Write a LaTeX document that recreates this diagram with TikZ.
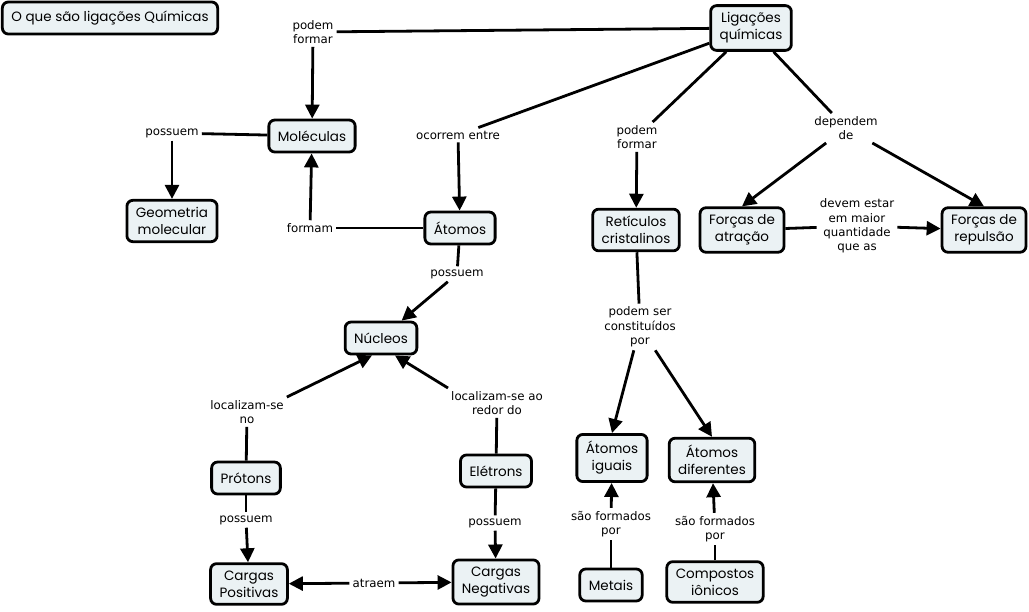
\documentclass[tikz,border=0pt]{standalone}
\usepackage{fontspec}
\usetikzlibrary{arrows.meta}

\newfontfamily\conceptfont{Poppins}
\newfontfamily\linkfont{DejaVu Sans}
\definecolor{conceptfill}{HTML}{EBF2F4}

\tikzset{
  concept/.style={draw, line width=2.8pt, rounded corners=6pt, fill=conceptfill,
    align=center, inner xsep=9pt, inner ysep=7pt, minimum height=32pt,
    font=\conceptfont\fontsize{13.5}{17}\selectfont},
  linking/.style={align=center, inner sep=3pt,
    font=\linkfont\fontsize{11.8}{14.4}\selectfont},
  link/.style={line width=2.8pt},
  linkarrow/.style={line width=2.8pt, -{Triangle[length=14pt,width=14pt]}},
}

\begin{document}
\begin{tikzpicture}[x={(1pt,0pt)}, y={(0pt,-1pt)}]

% Page frame
\useasboundingbox (0,0) rectangle (1029,611);
\fill[white] (0,0) rectangle (1029,611);

% Concepts
\node[concept] (title) at (110,18) {O que são ligações Químicas};
\node[concept] (lig) at (751,28) {Ligações\\químicas};
\node[concept] (mol) at (312,136) {Moléculas};
\node[concept] (geo) at (172,221) {Geometria\\molecular};
\node[concept] (ato) at (460,228) {Átomos};
\node[concept] (nuc) at (381,338) {Núcleos};
\node[concept] (prot) at (246,478) {Prótons};
\node[concept] (elet) at (496,471) {Elétrons};
\node[concept] (cpos) at (249,584) {Cargas\\Positivas};
\node[concept] (cneg) at (496,582) {Cargas\\Negativas};
\node[concept] (ret) at (636,230) {Retículos\\cristalinos};
\node[concept] (fatr) at (742,230) {Forças de\\atração};
\node[concept] (frep) at (984,230) {Forças de\\repulsão};
\node[concept] (aig) at (612,458) {Átomos\\iguais};
\node[concept] (adif) at (712,460) {Átomos\\diferentes};
\node[concept] (met) at (611,585) {Metais};
\node[concept] (comp) at (715,582) {Compostos\\iônicos};

% Linking phrases
\node[linking] (pf1) at (313,32) {podem\\formar};
\node[linking] (pos1) at (172,133) {possuem};
\node[linking] (form) at (310,228) {formam};
\node[linking] (ocor) at (458,135) {ocorrem entre};
\node[linking] (pos2) at (457,274) {possuem};
\node[linking] (loc1) at (247,412) {localizam-se\\no};
\node[linking] (loc2) at (497,403) {localizam-se ao\\redor do};
\node[linking] (pos3) at (246,520) {possuem};
\node[linking] (pos4) at (495,523) {possuem};
\node[linking] (atr) at (374,583) {atraem};
\node[linking] (pf2) at (637,137) {podem\\formar};
\node[linking] (dep) at (846,128) {dependem\\de};
\node[linking] (dev) at (857,226) {devem estar\\em maior\\quantidade\\que as};
\node[linking] (cons) at (640,327) {podem ser\\constituídos\\por};
\node[linking] (sf1) at (611,524) {são formados\\por};
\node[linking] (sf2) at (715,529) {são formados\\por};

% Left branch
\draw[link] (lig) -- (pf1);
\draw[linkarrow] (pf1) -- (mol);
\draw[link] (mol) -- (pos1);
\draw[linkarrow] (pos1) -- (geo);
\draw[link] (ato) -- (form);
\draw[linkarrow] (form) -- (mol);
\draw[link] (lig) -- (ocor);
\draw[linkarrow] (ocor) -- (ato);
\draw[link] (ato) -- (pos2);
\draw[linkarrow] (pos2) -- (nuc);

% Protons and electrons
\draw[link] (prot) -- (loc1);
\draw[linkarrow] (loc1.north east) -- ([xshift=-9pt]nuc.south);
\draw[link] (elet) -- (loc2);
\draw[linkarrow] (loc2.north west) -- ([xshift=14pt]nuc.south);
\draw[link] (prot) -- (pos3);
\draw[linkarrow] (pos3) -- (cpos);
\draw[link] (elet) -- (pos4);
\draw[linkarrow] (pos4) -- (cneg);
\draw[linkarrow] (atr) -- (cpos);
\draw[linkarrow] (atr) -- (cneg);

% Right branch
\draw[link] (lig) -- (pf2);
\draw[linkarrow] (pf2) -- (ret);
\draw[link] (lig) -- (dep);
\draw[linkarrow] (dep) -- (fatr.north);
\draw[linkarrow] (dep) -- (frep.north);
\draw[link] (fatr) -- (dev);
\draw[linkarrow] (dev) -- (frep);
\draw[link] (ret) -- (cons);
\draw[linkarrow] (cons) -- (aig.north);
\draw[linkarrow] (cons) -- (adif.north);
\draw[link] (met) -- (sf1);
\draw[linkarrow] (sf1) -- (aig);
\draw[link] (comp) -- (sf2);
\draw[linkarrow] (sf2) -- (adif);

\end{tikzpicture}
\end{document}
